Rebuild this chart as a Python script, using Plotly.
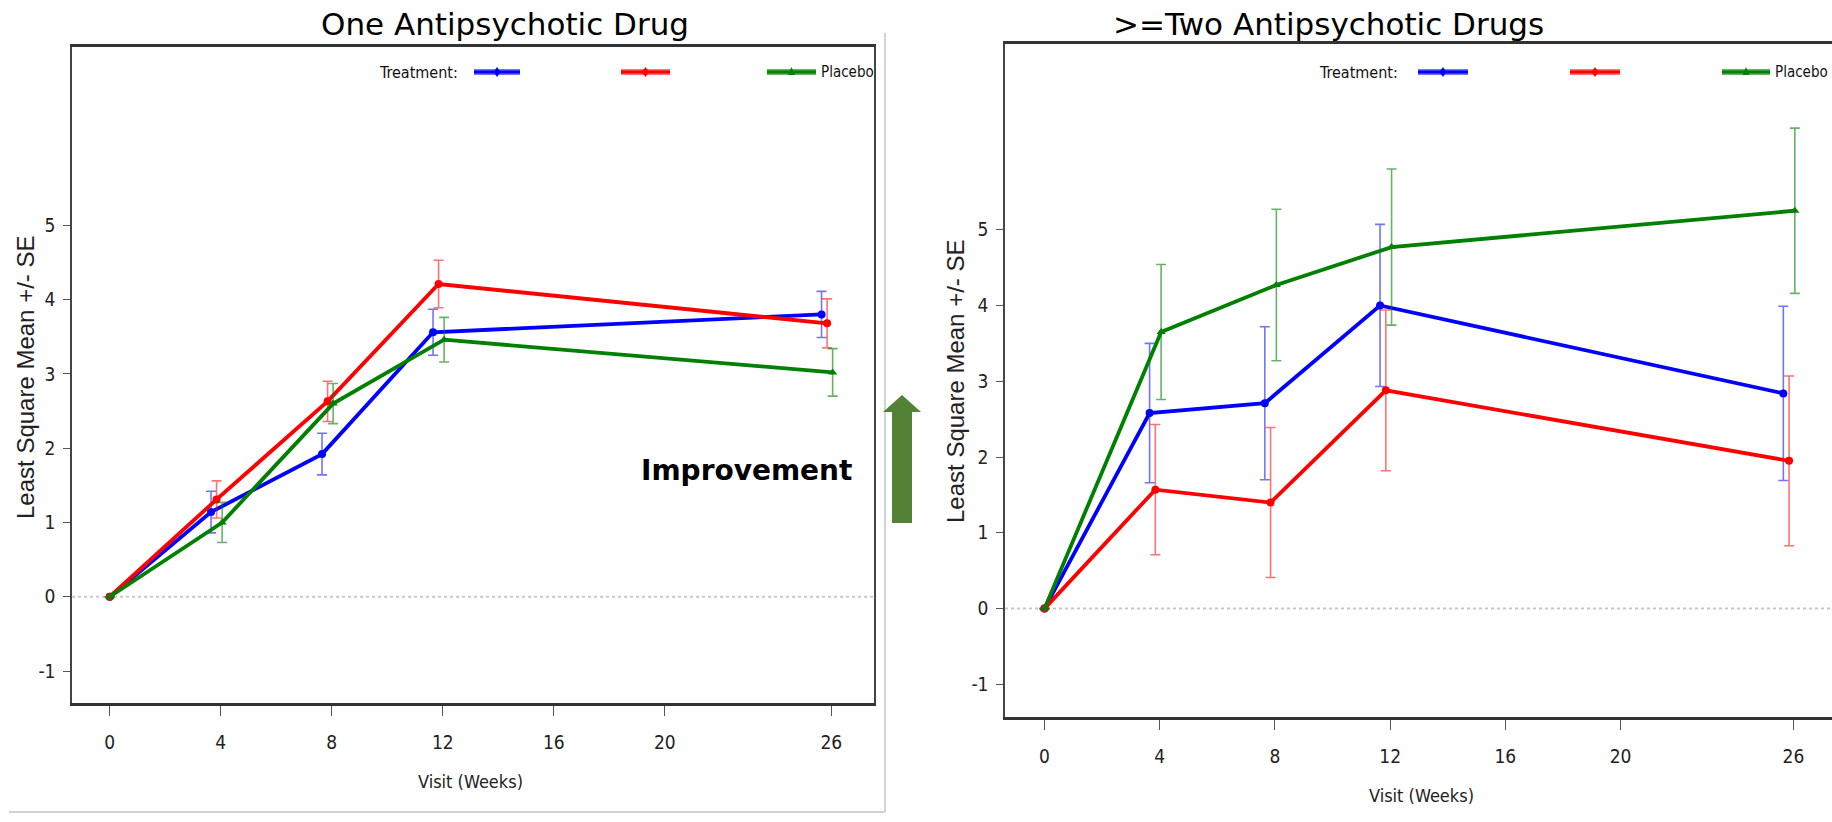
import plotly.graph_objects as go

W, H = 1832, 822

# ---- data -------------------------------------------------------------
visits = [0, 4, 8, 12, 26]
x_ticks = [0, 4, 8, 12, 16, 20, 26]
y_ticks = [-1, 0, 1, 2, 3, 4, 5]
y_tick_labels = ["-1", "0", "1", "2", "3", "4", "5"]
panel_titles = ["One Antipsychotic Drug", ">=Two Antipsychotic Drugs"]
treatment_names = ["", "", "Placebo"]

# One antipsychotic drug: least square mean change and SE
one_blue_mean = [0, 1.14, 1.92, 3.56, 3.80]
one_blue_se = [0, 0.28, 0.28, 0.31, 0.31]
one_red_mean = [0, 1.31, 2.63, 4.21, 3.68]
one_red_se = [0, 0.25, 0.27, 0.32, 0.33]
one_placebo_mean = [0, 1.00, 2.60, 3.46, 3.02]
one_placebo_se = [0, 0.27, 0.27, 0.30, 0.32]

# Two or more antipsychotic drugs
two_blue_mean = [0, 2.58, 2.71, 4.00, 2.84]
two_blue_se = [0, 0.92, 1.01, 1.07, 1.15]
two_red_mean = [0, 1.57, 1.40, 2.88, 1.95]
two_red_se = [0, 0.86, 0.99, 1.06, 1.12]
two_placebo_mean = [0, 3.65, 4.27, 4.77, 5.25]
two_placebo_se = [0, 0.89, 1.00, 1.03, 1.09]

# ---- styling ----------------------------------------------------------
line_colors = ["#0000ff", "#ff0000", "#008000"]
bar_colors = ["rgba(0,0,255,0.55)", "rgba(255,0,0,0.55)", "rgba(0,128,0,0.6)"]
symbols = ["circle", "circle", "triangle-up"]
dodge = [-0.35, -0.15, 0.05]          # horizontal cluster offset per group
NARROW = "Liberation Sans Narrow, Arial Narrow, DejaVu Sans Condensed, sans-serif"
SANS = "Liberation Sans, Arial, sans-serif"
WIDE = "DejaVu Sans, Verdana, sans-serif"


def px(x):
    return x / W


def py(y):
    return 1 - y / H


fig = go.Figure()

panels = [
    ("x", "y", [(one_blue_mean, one_blue_se), (one_red_mean, one_red_se),
                (one_placebo_mean, one_placebo_se)]),
    ("x2", "y2", [(two_blue_mean, two_blue_se), (two_red_mean, two_red_se),
                  (two_placebo_mean, two_placebo_se)]),
]

for xa, ya, series in panels:
    for i, (mean, se) in enumerate(series):
        xs = [v + dodge[i] if v > 0 else v for v in visits]
        fig.add_trace(go.Scatter(
            x=xs, y=mean, xaxis=xa, yaxis=ya, mode="lines+markers",
            name=treatment_names[i], showlegend=False,
            line=dict(color=line_colors[i], width=3.8),
            marker=dict(symbol=symbols[i], size=8, color=line_colors[i]),
            error_y=dict(type="data", array=se, color=bar_colors[i],
                         thickness=1.6, width=5),
        ))

axis_common = dict(showgrid=False, zeroline=False, ticks="outside",
                   tickcolor="#555", showline=True)
tick_font = dict(family=NARROW, size=19, color="#222")

fig.update_layout(
    width=W, height=H, margin=dict(l=0, r=0, t=0, b=0),
    paper_bgcolor="white", plot_bgcolor="white", showlegend=False,
    xaxis=dict(domain=[px(72), px(874)], range=[-1.36, 27.54], anchor="y",
               tickvals=x_ticks, ticklen=10, linewidth=3, linecolor="#333",
               mirror=True, ticklabelstandoff=10, tickfont=tick_font, **axis_common),
    yaxis=dict(domain=[py(703), py(47)], range=[-1.43, 7.40], anchor="x",
               tickvals=y_ticks, ticktext=y_tick_labels, ticklen=7, linewidth=1.5,
               linecolor="#444", mirror=True, ticklabelstandoff=4,
               tickfont=tick_font, **axis_common),
    xaxis2=dict(domain=[px(1005), 1.0], range=[-1.37, 27.34], anchor="y2",
                tickvals=x_ticks, ticklen=10, linewidth=3, linecolor="#333",
                mirror=True, ticklabelstandoff=10, tickfont=tick_font, **axis_common),
    yaxis2=dict(domain=[py(717), py(44)], range=[-1.43, 7.45], anchor="x2",
                tickvals=y_ticks, ticktext=y_tick_labels, ticklen=7, linewidth=1.5,
                linecolor="#444", mirror=False, ticklabelstandoff=4,
                tickfont=tick_font, **axis_common),
)

shapes = []
# dotted zero reference lines
for xa, ya in [("x", "y"), ("x2", "y2")]:
    shapes.append(dict(type="line", xref=f"{xa} domain", yref=ya, x0=0, x1=1,
                       y0=0, y1=0, layer="below",
                       line=dict(color="#c8c8c8", width=2, dash="dot")))

# light frame around the left panel
shapes.append(dict(type="line", xref="paper", yref="paper", x0=px(885), x1=px(885),
                   y0=py(33), y1=py(812), line=dict(color="#d2d2d2", width=2)))
shapes.append(dict(type="line", xref="paper", yref="paper", x0=px(9), x1=px(885),
                   y0=py(812), y1=py(812), line=dict(color="#d2d2d2", width=2)))

# upward improvement arrow
arrow_pts = [(892, 523), (912, 523), (912, 412), (921, 412), (902, 395),
             (883, 412), (892, 412)]
path = "M " + " L ".join(f"{px(a):.5f},{py(b):.5f}" for a, b in arrow_pts) + " Z"
shapes.append(dict(type="path", xref="paper", yref="paper", path=path,
                   fillcolor="#548235", line=dict(width=0)))

# legend keys
legend_rows = [
    (460, 72, [(474, 520), (621, 670), (767, 816)], 819),
    (1400, 72, [(1418, 1468), (1570, 1620), (1722, 1770)], 1773),
]
annotations = []
for tx, ly, keys, plx in legend_rows:
    annotations.append(dict(x=px(tx), y=py(ly), xref="paper", yref="paper",
                            text="Treatment:", showarrow=False, xanchor="right",
                            yanchor="middle",
                            font=dict(family=NARROW, size=16, color="#111")))
    for i, (a, b) in enumerate(keys):
        shapes.append(dict(type="line", xref="paper", yref="paper",
                           x0=px(a), x1=px(b), y0=py(ly), y1=py(ly),
                           line=dict(color=bar_colors[i], width=6)))
        shapes.append(dict(type="line", xref="paper", yref="paper",
                           x0=px(a), x1=px(b), y0=py(ly), y1=py(ly),
                           line=dict(color=line_colors[i], width=3)))
        c = (a + b) / 2
        if symbols[i] == "circle":
            shapes.append(dict(type="path", xref="paper", yref="paper",
                               path=f"M {px(c):.5f},{py(ly-5):.5f} L {px(c+3.5):.5f},{py(ly):.5f} "
                                    f"L {px(c):.5f},{py(ly+5):.5f} L {px(c-3.5):.5f},{py(ly):.5f} Z",
                               fillcolor=line_colors[i], line=dict(width=0)))
        else:
            shapes.append(dict(type="path", xref="paper", yref="paper",
                               path=f"M {px(c):.5f},{py(ly-5):.5f} L {px(c+3.5):.5f},{py(ly+3):.5f} "
                                    f"L {px(c-3.5):.5f},{py(ly+3):.5f} Z",
                               fillcolor=line_colors[i], line=dict(width=0)))
    annotations.append(dict(x=px(plx), y=py(ly), xref="paper", yref="paper",
                            text=treatment_names[2], showarrow=False, xanchor="left",
                            yanchor="middle",
                            font=dict(family=NARROW, size=15, color="#111")))

# panel titles
for t, cx in zip(panel_titles, [505, 1328]):
    annotations.append(dict(x=px(cx), y=py(24), xref="paper", yref="paper", text=t,
                            showarrow=False, xanchor="center", yanchor="middle",
                            font=dict(family=WIDE, size=31, color="#000")))

# axis titles
for cx, cy in [(470, 781), (1421, 795)]:
    annotations.append(dict(x=px(cx), y=py(cy), xref="paper", yref="paper",
                            text="Visit (Weeks)", showarrow=False, xanchor="center",
                            yanchor="middle",
                            font=dict(family=NARROW, size=18, color="#222")))
for cx, cy in [(26, 377), (956, 381)]:
    annotations.append(dict(x=px(cx), y=py(cy), xref="paper", yref="paper",
                            text="Least Square Mean +/- SE", showarrow=False,
                            textangle=-90, xanchor="center", yanchor="middle",
                            font=dict(family=SANS, size=24, color="#222")))

annotations.append(dict(x=px(746), y=py(470), xref="paper", yref="paper",
                        text="<b>Improvement</b>", showarrow=False,
                        xanchor="center", yanchor="middle",
                        font=dict(family=WIDE, size=28, color="#000")))

fig.update_layout(shapes=shapes, annotations=annotations)
fig.write_html("out.html")
